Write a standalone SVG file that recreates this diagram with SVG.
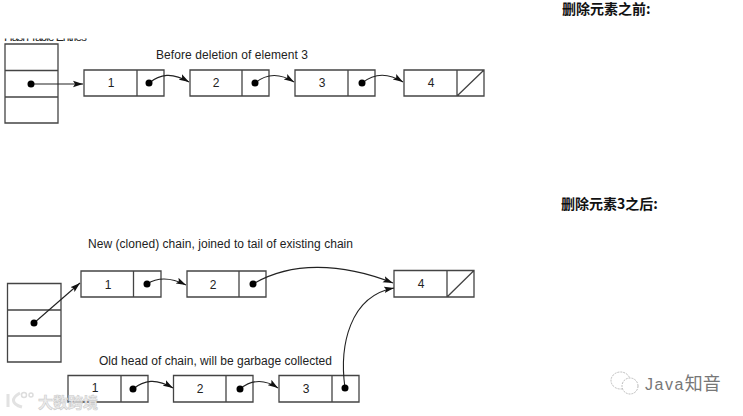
<svg xmlns="http://www.w3.org/2000/svg" width="743" height="416" viewBox="0 0 743 416">
<style>
.b{fill:none;stroke:#444;stroke-width:1.3}
.c{fill:none;stroke:#222;stroke-width:1.1}
.t{font:12px "Liberation Sans",Arial,sans-serif;fill:#222}
.n{font:12px "Liberation Sans",Arial,sans-serif;fill:#222;text-anchor:middle}
.h{font:bold 14px "Noto Sans CJK SC",sans-serif;fill:#111}
.w{font:bold 15px "Noto Sans CJK SC",sans-serif;fill:#eee;stroke:#ccc;stroke-width:.6}
.l{fill:none;stroke:#e2e2e2;stroke-width:3}
.j{font:16px "Liberation Sans",sans-serif;fill:#777;letter-spacing:1.5px}
.k{font:18px "Noto Sans CJK SC",sans-serif;fill:#777;letter-spacing:0}
.u{fill:#fff;stroke:#bbb;stroke-dasharray:2 1}
.d{fill:#000}
</style>
<defs>
<marker id="a" markerUnits="userSpaceOnUse" markerWidth="11" markerHeight="8" refX="10" refY="4" orient="auto"><path d="M0 .8L10 4L0 7.2L2 4Z" fill="#111"/></marker>
<clipPath id="cl"><rect x="0" y="38.500" width="100" height="2.500"/></clipPath>
</defs>
<rect width="743" height="416" fill="#fff"/>
<text class="t" x="4" y="41" clip-path="url(#cl)" textLength="83">Hash Table Entries</text>
<text class="t" x="156" y="59" textLength="152">Before deletion of element 3</text>
<text class="t" x="88" y="247.500" textLength="265">New (cloned) chain, joined to tail of existing chain</text>
<text class="t" x="99" y="365" textLength="233">Old head of chain, will be garbage collected</text>
<text class="h" x="562" y="14">删除元素之前:</text>
<text class="h" x="561" y="209">删除元素3之后:</text>
<g id="stack-top"><path class="b" d="M5 44H58V123H5ZM5 70.500H58M5 97H58"/></g>
<g id="stack-bottom"><path class="b" d="M7.500 283.500H61V362H7.500ZM7.500 310H61M7.500 336H61"/></g>
<g id="a1"><path class="b" d="M84 70H164V96H84ZM137 70V96"/><text class="n" x="111" y="87">1</text></g>
<g id="a2"><path class="b" d="M190 70H269V96H190ZM242 70V96"/><text class="n" x="216" y="87">2</text></g>
<g id="a3"><path class="b" d="M295 70H375V96H295ZM348 70V96"/><text class="n" x="322" y="87">3</text></g>
<g id="a4"><path class="b" d="M404 70H484V96H404ZM457 70V96M457 96L484 70"/><text class="n" x="431" y="87">4</text></g>
<g id="b1"><path class="b" d="M81 271H161V297H81ZM133.500 271V297"/><text class="n" x="108" y="289">1</text></g>
<g id="b2"><path class="b" d="M187 271H266V297H187ZM239 271V297"/><text class="n" x="213" y="289">2</text></g>
<g id="b4"><path class="b" d="M394 270.500H474V297H394ZM447 270.500V297M447 297L474 270.500"/><text class="n" x="421" y="288">4</text></g>
<g id="c1"><path class="b" d="M68 375.500H148V402H68ZM121 375.500V402"/><text class="n" x="95" y="392">1</text></g>
<g id="c2"><path class="b" d="M173.500 375.500H253V402H173.500ZM226 375.500V402"/><text class="n" x="200" y="393">2</text></g>
<g id="c3"><path class="b" d="M279 375.500H359V402H279ZM332 375.500V402"/><text class="n" x="306" y="393">3</text></g>
<g id="connectors">
<path class="c" marker-end="url(#a)" d="M31 84H83"/>
<path class="c" marker-end="url(#a)" d="M149 83C160 74 172 72 189 82"/>
<path class="c" marker-end="url(#a)" d="M255 83C266 74 278 72 294 82"/>
<path class="c" marker-end="url(#a)" d="M362 83C373 74 387 72 403 82"/>
<path class="c" marker-end="url(#a)" d="M34 323L80 283"/>
<path class="c" marker-end="url(#a)" d="M147 284C158 277 170 277 186 285"/>
<path class="c" marker-end="url(#a)" d="M253 284C290 262 340 262 393 283"/>
<path class="c" marker-end="url(#a)" d="M345 388C339 345 350 296 394 288"/>
<path class="c" marker-end="url(#a)" d="M133 389C144 380 156 378 173 388"/>
<path class="c" marker-end="url(#a)" d="M240 389C251 380 263 378 278 388"/>
<g class="d"><circle cx="31" cy="84" r="3.500"/><circle cx="149" cy="83" r="3.500"/><circle cx="255" cy="83" r="3.500"/><circle cx="362" cy="83" r="3.500"/><circle cx="34" cy="323" r="3.500"/><circle cx="147" cy="284" r="3.500"/><circle cx="253" cy="284" r="3.500"/><circle cx="133" cy="389" r="3.500"/><circle cx="240" cy="389" r="3.500"/><circle cx="345" cy="388" r="3.500"/></g>
</g>
<g id="watermark-a"><path class="l" d="M8 394V407M20 393C11 398 11 404 22 407"/><circle cx="24" cy="395" r="2.500" fill="none" stroke="#ddd" stroke-width="1.500"/><circle cx="31" cy="395" r="2" fill="none" stroke="#ddd" stroke-width="1.500"/><text class="w" x="38" y="408">大数跨境</text></g>
<g id="watermark-b"><ellipse class="u" cx="620.500" cy="380.500" rx="9.500" ry="8.500"/><ellipse class="u" cx="630" cy="386" rx="8" ry="8"/><text class="j" x="645" y="390">Java<tspan class="k">知音</tspan></text></g>
</svg>
